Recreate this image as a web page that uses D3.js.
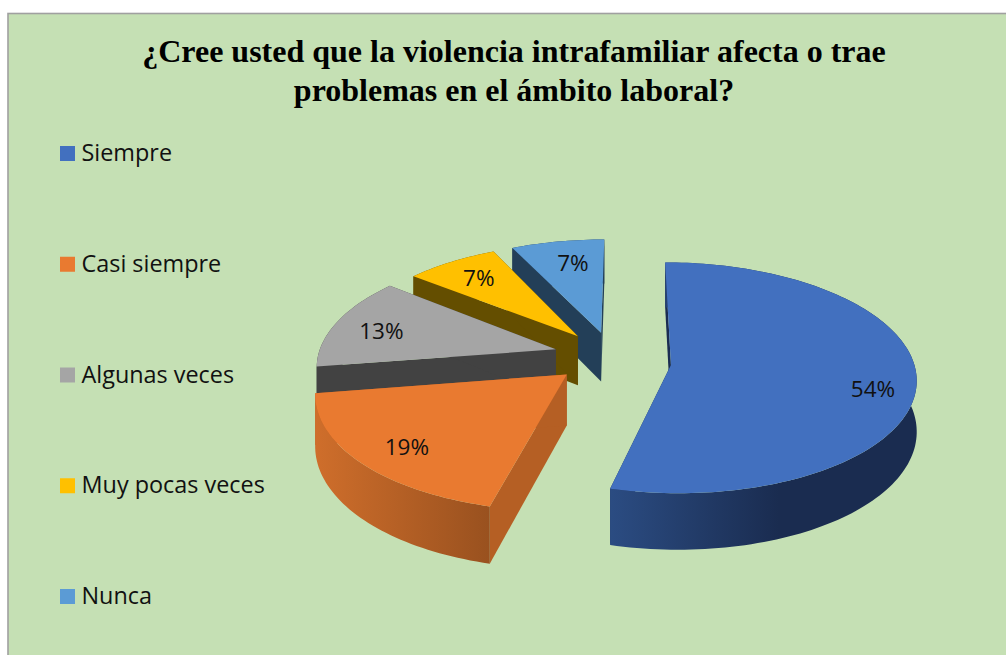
<!DOCTYPE html>
<html lang="es">
<head>
<meta charset="utf-8">
<title>Violencia intrafamiliar y ámbito laboral</title>
<script src="https://cdn.jsdelivr.net/npm/d3@7"></script>
<style>
  html, body { margin: 0; padding: 0; background: #fff; }
  svg { display: block; }
</style>
</head>
<body>
<svg id="chart" width="1006" height="655"></svg>
<script>
// Survey answers, in percent
const categories = ["Siempre", "Casi siempre", "Algunas veces", "Muy pocas veces", "Nunca"];
const values = [54, 19, 13, 7, 7];
const titleLines = [
  "¿Cree usted que la violencia intrafamiliar afecta o trae",
  "problemas en el ámbito laboral?"
];

// Face colours per slice: top, radial walls, and the two ends of the rim shading
const topColors = ["#4270bf", "#e97a30", "#a5a5a5", "#ffc000", "#5b9bd5"];
const wallColors = ["#1a2c52", "#b55f24", "#424242", "#644e00", "#233f58"];
const rimStart = ["#2b4c82", "#cf6e2b", "#424242", "#644e00", "#233f58"];
const rimEnd = ["#1a2c50", "#99511f", "#424242", "#644e00", "#233f58"];

// How far each slice is pulled out of the pie, with small screen corrections
// for the slice, for its inner corner, and for its label
const explosions = [0.24, 0.26, 0.23, 0.22, 0.23];
const sliceShifts = [[-1, 0], [-1, -3], [-1, -2], [1, -1], [1, 0]];
const apexShifts = [[0, 0], [2, -4], [-4, -3], [-5, -5], [-2, -4]];
const labelShifts = [[5, 12], [2, -1], [0, 1], [4, 0], [8, 4]];

const chartWidth = 1006, chartHeight = 655;
const svg = d3.select("#chart");
const defs = svg.append("defs");

// Panel
svg.append("rect")
  .attr("x", 8).attr("y", 13.5)
  .attr("width", chartWidth).attr("height", chartHeight)
  .attr("fill", "#c5e0b4")
  .attr("stroke", "#a0a0a0").attr("stroke-width", 1.6);

// Title
svg.append("g").selectAll("text").data(titleLines).join("text")
  .attr("x", 514)
  .attr("y", (d, i) => 62 + i * 39)
  .attr("text-anchor", "middle")
  .attr("font-family", "'Liberation Serif', serif")
  .attr("font-weight", "bold")
  .attr("font-size", 32)
  .attr("fill", "#000")
  .text(d => d);

// Legend
const legendY = d3.scalePoint().domain(categories).range([153.5, 596.5]);
const legend = svg.append("g").selectAll("g").data(categories).join("g")
  .attr("transform", d => `translate(60,${legendY(d)})`);
legend.append("rect")
  .attr("y", -7.5).attr("width", 15).attr("height", 15)
  .attr("fill", (d, i) => topColors[i]);
legend.append("text")
  .attr("x", 21.5).attr("y", 7.5)
  .attr("font-family", "'Open Sans', sans-serif")
  .attr("font-size", 23.4)
  .attr("fill", "#111")
  .text(d => d);

// Perspective camera: a disc of unit radius, seen from above and in front.
// Screen depth comes from `near`, which shrinks as a point moves away.
const camera = {
  originX: 614, vanishY: -660,
  spreadX: 0.2375, depthBase: 9.789e-4, depthStep: 1.085e-4,
  thickness: 0.049
};

const project = (angle, radius, mid, explode) => {
  const x = explode * Math.sin(mid) + radius * Math.sin(angle);
  const z = -explode * Math.cos(mid) - radius * Math.cos(angle);
  const near = 1 / (camera.depthBase - z * camera.depthStep);
  return { x: camera.originX + camera.spreadX * x * near, y: camera.vanishY + near, drop: camera.thickness * near };
};

const moved = (p, shift) => ({ x: p.x + shift[0], y: p.y + shift[1], drop: p.drop });
const upper = p => [p.x, p.y];
const lower = p => [p.x, p.y + p.drop];
const pathLine = d3.line();

const slices = d3.pie().sort(null).value(d => d)(values).map((s, i) => {
  const mid = (s.startAngle + s.endAngle) / 2;
  const steps = Math.max(8, Math.round((s.endAngle - s.startAngle) * 40));
  const angles = d3.range(steps + 1).map(k => s.startAngle + (s.endAngle - s.startAngle) * k / steps);
  return {
    i, mid, angles,
    apex: moved(moved(project(0, 0, mid, explosions[i]), sliceShifts[i]), apexShifts[i]),
    rim: angles.map(a => moved(project(a, 1, mid, explosions[i]), sliceShifts[i])),
    label: project(mid, 0.8, mid, explosions[i]),
    value: s.value
  };
});

// Rim shading runs left to right across each slice's rim
slices.forEach(s => {
  const xs = d3.extent(s.rim, p => p.x);
  const grad = defs.append("linearGradient")
    .attr("id", `rim${s.i}`)
    .attr("gradientUnits", "userSpaceOnUse")
    .attr("x1", xs[0]).attr("x2", s.i === 0 ? xs[0] + (xs[1] - xs[0]) * 0.55 : xs[1])
    .attr("y1", 0).attr("y2", 0);
  grad.append("stop").attr("offset", 0).attr("stop-color", rimStart[s.i]);
  grad.append("stop").attr("offset", 1).attr("stop-color", rimEnd[s.i]);
});

// Far slices first, so that nearer ones cover them
const paintOrder = [4, 3, 2, 1, 0];
const pieGroup = svg.append("g");
paintOrder.forEach(idx => {
  const s = slices[idx];
  const g = pieGroup.append("g");
  const first = s.rim[0], last = s.rim[s.rim.length - 1];
  [first, last].forEach(edge => {
    g.append("path")
      .attr("d", pathLine([upper(s.apex), upper(edge), lower(edge), lower(s.apex)]) + "Z")
      .attr("fill", wallColors[idx]);
  });
  g.append("path")
    .attr("d", pathLine([...s.rim.map(upper), ...s.rim.slice().reverse().map(lower)]) + "Z")
    .attr("fill", `url(#rim${idx})`);
  g.append("path")
    .attr("d", pathLine([upper(s.apex), ...s.rim.map(upper)]) + "Z")
    .attr("fill", topColors[idx]);
});

// Percentage labels sit on each top face
svg.append("g").selectAll("text").data(slices).join("text")
  .attr("x", d => d.label.x + labelShifts[d.i][0])
  .attr("y", d => d.label.y + 8 + labelShifts[d.i][1])
  .attr("text-anchor", "middle")
  .attr("font-family", "'Open Sans', sans-serif")
  .attr("font-size", 22.5)
  .attr("fill", "#111")
  .text(d => `${d.value}%`);
</script>
</body>
</html>
